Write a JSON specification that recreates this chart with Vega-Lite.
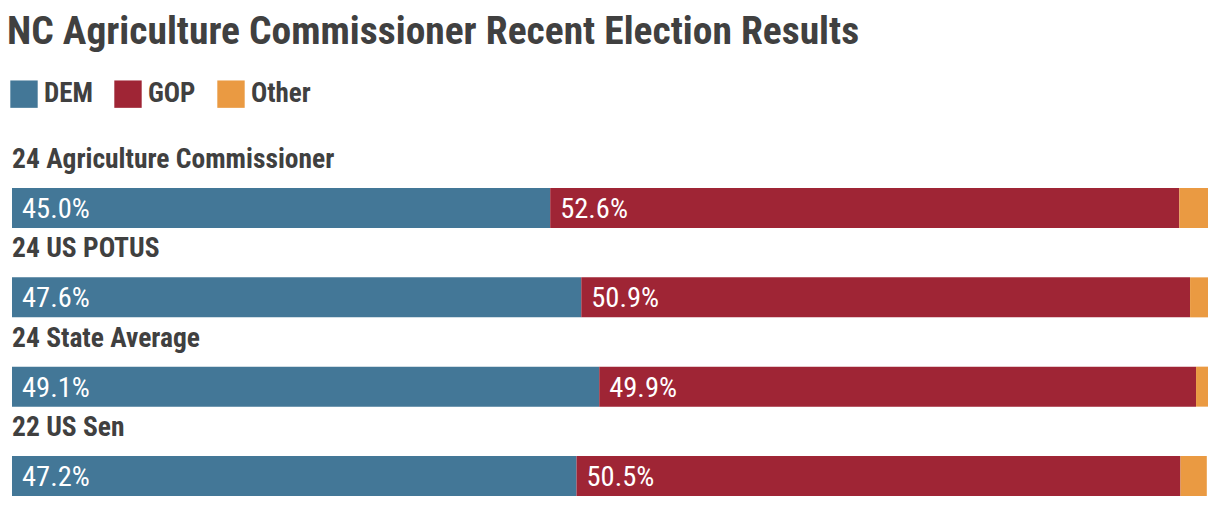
{
  "$schema": "https://vega.github.io/schema/vega-lite/v6.json",
  "width": 1196,
  "height": 332,
  "autosize": {"type": "none"},
  "padding": {"left": 12, "top": 176, "right": 12, "bottom": 0},
  "background": "white",
  "config": {"view": {"stroke": null}},
  "title": {
    "text": "NC Agriculture Commissioner Recent Election Results",
    "anchor": "start",
    "font": "Roboto Condensed",
    "fontSize": 39.5,
    "fontWeight": "bold",
    "color": "#404040",
    "dx": -3,
    "offset": 28
  },
  "data": {
    "values": [
      {"race": "24 Agriculture Commissioner", "party": "DEM", "pct": 0.450},
      {"race": "24 Agriculture Commissioner", "party": "GOP", "pct": 0.526},
      {"race": "24 Agriculture Commissioner", "party": "Other", "pct": 0.024},
      {"race": "24 US POTUS", "party": "DEM", "pct": 0.476},
      {"race": "24 US POTUS", "party": "GOP", "pct": 0.509},
      {"race": "24 US POTUS", "party": "Other", "pct": 0.015},
      {"race": "24 State Average", "party": "DEM", "pct": 0.491},
      {"race": "24 State Average", "party": "GOP", "pct": 0.499},
      {"race": "24 State Average", "party": "Other", "pct": 0.010},
      {"race": "22 US Sen", "party": "DEM", "pct": 0.472},
      {"race": "22 US Sen", "party": "GOP", "pct": 0.505},
      {"race": "22 US Sen", "party": "Other", "pct": 0.022}
    ]
  },
  "transform": [
    {"stack": "pct", "groupby": ["race"], "sort": [{"field": "party", "order": "ascending"}], "as": ["x0", "x1"]}
  ],
  "encoding": {
    "y": {
      "field": "race",
      "type": "nominal",
      "sort": ["24 Agriculture Commissioner", "24 US POTUS", "24 State Average", "22 US Sen"],
      "scale": {"paddingInner": 0.552, "paddingOuter": 0.135},
      "axis": null
    }
  },
  "layer": [
    {
      "mark": {"type": "bar"},
      "encoding": {
        "x": {"field": "x0", "type": "quantitative", "scale": {"domain": [0, 1], "nice": false, "zero": true}, "axis": null},
        "x2": {"field": "x1"},
        "color": {
          "field": "party",
          "type": "nominal",
          "scale": {"domain": ["DEM", "GOP", "Other"], "range": ["#437797", "#9F2535", "#EA9A42"]},
          "legend": {
            "orient": "none",
            "legendX": -2,
            "legendY": -96,
            "direction": "horizontal",
            "title": null,
            "symbolType": "square",
            "symbolSize": 750,
            "symbolStrokeWidth": 0,
            "symbolOpacity": 1,
            "labelFont": "Roboto Condensed",
            "labelFontSize": 27,
            "labelFontWeight": "bold",
            "labelColor": "#404040",
            "labelOffset": 6,
            "columnPadding": 21
          }
        }
      }
    },
    {
      "transform": [{"filter": "datum.party !== 'Other'"}],
      "mark": {"type": "text", "align": "left", "baseline": "middle", "dx": 10, "dy": 1, "color": "white", "fontSize": 28.5, "font": "Roboto Condensed"},
      "encoding": {
        "x": {"field": "x0", "type": "quantitative"},
        "text": {"field": "pct", "type": "quantitative", "format": ".1%"}
      }
    },
    {
      "transform": [{"filter": "datum.party === 'DEM'"}],
      "mark": {"type": "text", "align": "left", "baseline": "alphabetic", "dy": -40, "color": "#404040", "fontSize": 27.5, "fontWeight": "bold", "font": "Roboto Condensed"},
      "encoding": {
        "x": {"datum": 0, "type": "quantitative"},
        "text": {"field": "race", "type": "nominal"}
      }
    }
  ]
}
